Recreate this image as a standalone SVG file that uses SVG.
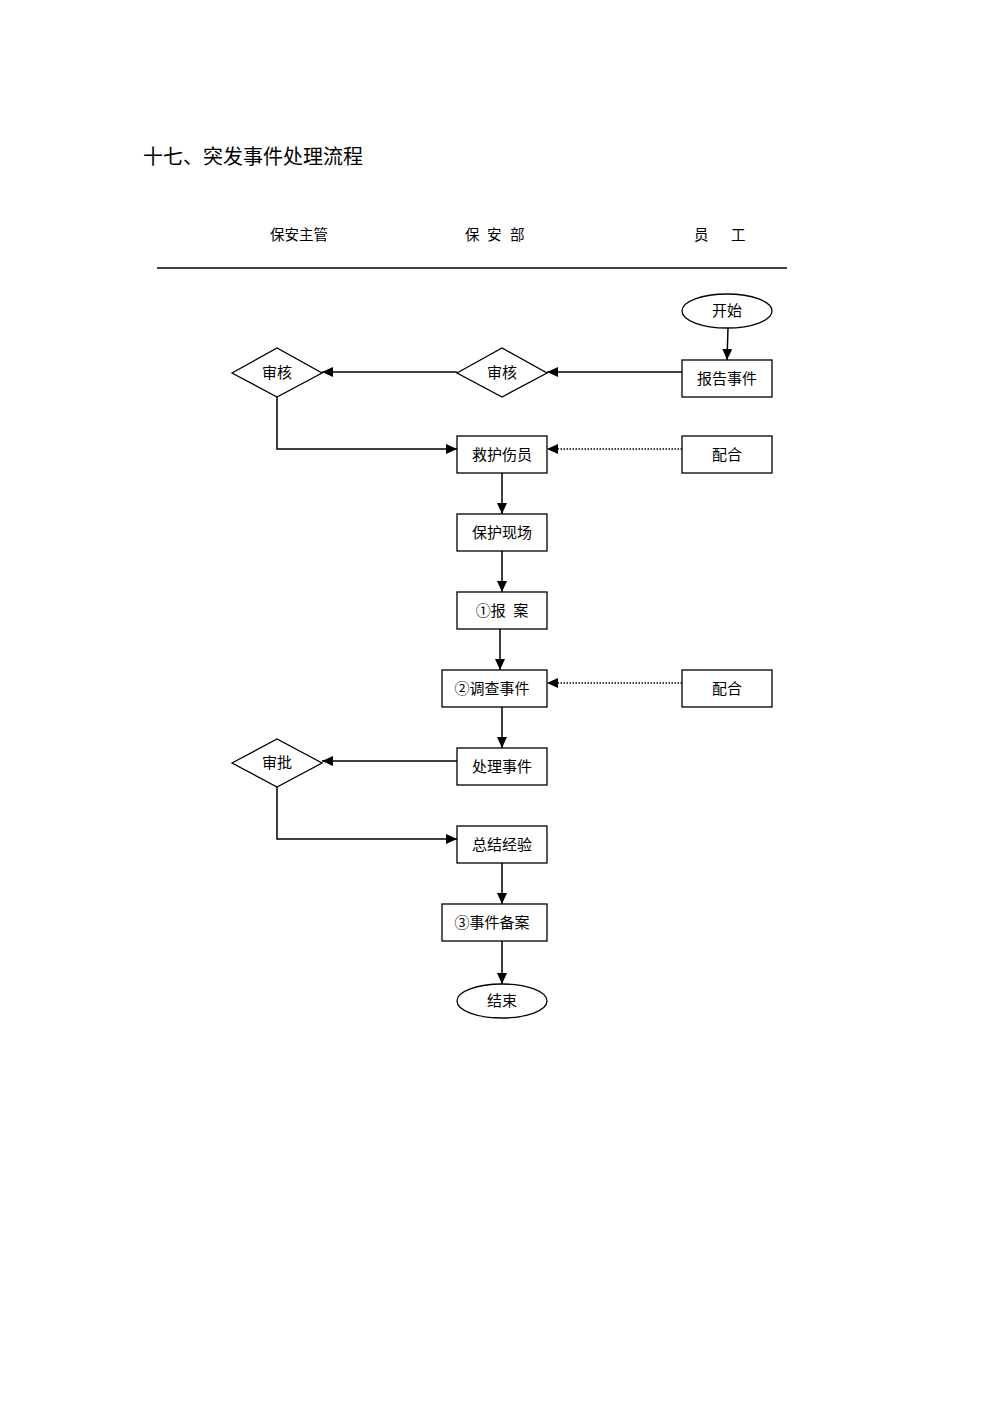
<svg xmlns="http://www.w3.org/2000/svg" width="992" height="1403" viewBox="0 0 992 1403">
<style>
text{font-family:"Liberation Serif","Noto Sans CJK SC",serif;fill:#000}
.t{font-size:15px;text-anchor:middle;dominant-baseline:central}
.h{font-size:14.5px}
.n{fill:#fff;stroke:#000;stroke-width:1.3}
.c{fill:none;stroke:#000;stroke-width:1.5}
.d{fill:none;stroke:#000;stroke-width:1.3;stroke-dasharray:1.5 1.5}
</style>
<defs>
<marker id="a" markerUnits="userSpaceOnUse" markerWidth="12" markerHeight="10" refX="11" refY="5" orient="auto">
<path d="M0,0 L11,5 L0,10 Z" fill="#000"/>
</marker>
</defs>
<rect width="992" height="1403" fill="#fff"/>
<text x="143" y="164" style="font-size:20px">十七、突发事件处理流程</text>
<g id="lanes">
<text class="h" x="270" y="240">保安主管</text>
<text class="h" x="465 487 510" y="240">保安部</text>
<text class="h" x="694 731" y="240">员工</text>
<line x1="157" y1="268" x2="787" y2="268" stroke="#000" stroke-width="1.5"/>
</g>
<g id="connectors">
<line class="c" x1="728" y1="328" x2="727" y2="360" marker-end="url(#a)"/>
<line class="c" x1="682" y1="372" x2="547" y2="372" marker-end="url(#a)"/>
<line class="c" x1="457" y1="372" x2="322" y2="372" marker-end="url(#a)"/>
<polyline class="c" points="277,397 277,449 457,449" marker-end="url(#a)"/>
<line class="d" x1="682" y1="449" x2="547" y2="449" marker-end="url(#a)"/>
<line class="c" x1="502" y1="473" x2="502" y2="514" marker-end="url(#a)"/>
<line class="c" x1="502" y1="551" x2="502" y2="592" marker-end="url(#a)"/>
<line class="c" x1="500" y1="629" x2="500" y2="670" marker-end="url(#a)"/>
<line class="d" x1="682" y1="683" x2="547" y2="683" marker-end="url(#a)"/>
<line class="c" x1="502" y1="707" x2="502" y2="748" marker-end="url(#a)"/>
<line class="c" x1="457" y1="761" x2="322" y2="761" marker-end="url(#a)"/>
<polyline class="c" points="277,787 277,839 457,839" marker-end="url(#a)"/>
<line class="c" x1="502" y1="863" x2="502" y2="904" marker-end="url(#a)"/>
<line class="c" x1="502" y1="941" x2="502" y2="984" marker-end="url(#a)"/>
</g>
<g id="start"><ellipse class="n" cx="727" cy="311" rx="45" ry="17"/><text class="t" x="727" y="311">开始</text></g>
<g id="report"><rect class="n" x="682" y="360" width="90" height="37"/><text class="t" x="727" y="379">报告事件</text></g>
<g id="review2"><polygon class="n" points="457,373 502,348 547,373 502,397"/><text class="t" x="502" y="373">审核</text></g>
<g id="review1"><polygon class="n" points="232,373 277,348 322,373 277,397"/><text class="t" x="277" y="373">审核</text></g>
<g id="rescue"><rect class="n" x="457" y="436" width="90" height="37"/><text class="t" x="502" y="455">救护伤员</text></g>
<g id="assist1"><rect class="n" x="682" y="436" width="90" height="37"/><text class="t" x="727" y="455">配合</text></g>
<g id="protect"><rect class="n" x="457" y="514" width="90" height="37"/><text class="t" x="502" y="533">保护现场</text></g>
<g id="police"><rect class="n" x="457" y="592" width="90" height="37"/><text class="t" x="502" y="611" xml:space="preserve">①报  案</text></g>
<g id="investigate"><rect class="n" x="442" y="670" width="105" height="37"/><text class="t" x="492" y="689">②调查事件</text></g>
<g id="assist2"><rect class="n" x="682" y="670" width="90" height="37"/><text class="t" x="727" y="689">配合</text></g>
<g id="handle"><rect class="n" x="457" y="748" width="90" height="37"/><text class="t" x="502" y="767">处理事件</text></g>
<g id="approve"><polygon class="n" points="232,763 277,739 322,763 277,787"/><text class="t" x="277" y="763">审批</text></g>
<g id="summary"><rect class="n" x="457" y="826" width="90" height="37"/><text class="t" x="502" y="845">总结经验</text></g>
<g id="archive"><rect class="n" x="442" y="904" width="105" height="37"/><text class="t" x="492" y="923">③事件备案</text></g>
<g id="end"><ellipse class="n" cx="502" cy="1001" rx="45" ry="17"/><text class="t" x="502" y="1001">结束</text></g>
</svg>
